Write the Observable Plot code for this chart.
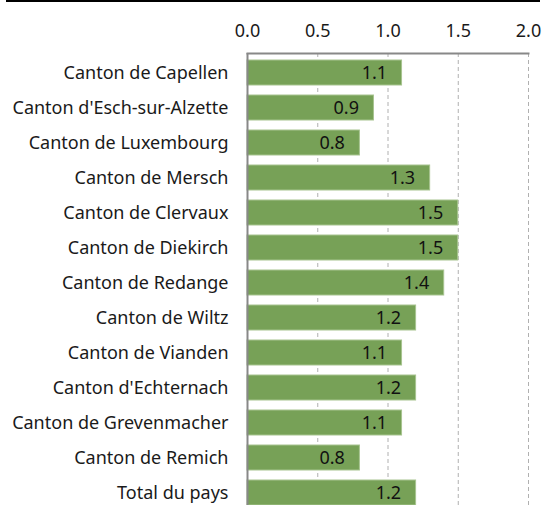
<!DOCTYPE html>
<html>
<head>
<meta charset="utf-8">
<script src="https://cdn.jsdelivr.net/npm/d3@7"></script>
<script src="https://cdn.jsdelivr.net/npm/@observablehq/plot@0.6"></script>
<style>
  html, body { margin: 0; padding: 0; background: #fff; }
  #wrap { position: relative; width: 543px; height: 505px; overflow: hidden; }
  #topline { position: absolute; left: 6px; top: 0; width: 534px; height: 2px; background: #000; }
  svg { font-family: "Noto Sans", sans-serif; }
</style>
</head>
<body>
<div id="wrap"><div id="topline"></div></div>
<script>
const cantons = [
  "Canton de Capellen",
  "Canton d'Esch-sur-Alzette",
  "Canton de Luxembourg",
  "Canton de Mersch",
  "Canton de Clervaux",
  "Canton de Diekirch",
  "Canton de Redange",
  "Canton de Wiltz",
  "Canton de Vianden",
  "Canton d'Echternach",
  "Canton de Grevenmacher",
  "Canton de Remich",
  "Total du pays"
];
const values = [1.1, 0.9, 0.8, 1.3, 1.5, 1.5, 1.4, 1.2, 1.1, 1.2, 1.1, 0.8, 1.2];
const xTicks = [0, 0.5, 1.0, 1.5, 2.0];

const data = cantons.map((c, i) => ({canton: c, value: values[i]}));

const chart = Plot.plot({
  width: 543,
  height: 505,
  marginTop: 53,
  marginBottom: 0,
  marginLeft: 247,
  marginRight: 15,
  style: {fontSize: "18px", fontFamily: "'Noto Sans', sans-serif", color: "#1a1a1a", background: "transparent"},
  x: {domain: [0, 2], axis: null},
  y: {domain: cantons, axis: null, paddingInner: 0.289, paddingOuter: 0.071, align: 1},
  marks: [
    Plot.gridX(xTicks.slice(1), {stroke: "#b0b0b0", strokeOpacity: 1, strokeDasharray: "4,3", strokeWidth: 1}),
    Plot.axisX(xTicks, {anchor: "top", label: null, tickSize: 0, tickPadding: 17, tickFormat: d => d.toFixed(1), fontSize: 18, fill: "#1a1a1a"}),
    Plot.axisY({anchor: "left", label: null, tickSize: 0, tickPadding: 19, fontSize: 18, fill: "#1a1a1a"}),
    Plot.barX(data, {x: "value", y: "canton", fill: "#77a157", stroke: "#a7c48f", strokeWidth: 1}),
    Plot.text(data, {x: "value", y: "canton", text: d => d.value.toFixed(1), textAnchor: "end", dx: -15, fontSize: 18, fill: "#111"}),
    Plot.frame({anchor: "top", stroke: "#888", strokeWidth: 2}),
    Plot.ruleX([0], {stroke: "#888", strokeWidth: 2})
  ]
});
document.getElementById("wrap").appendChild(chart);
</script>
</body>
</html>
